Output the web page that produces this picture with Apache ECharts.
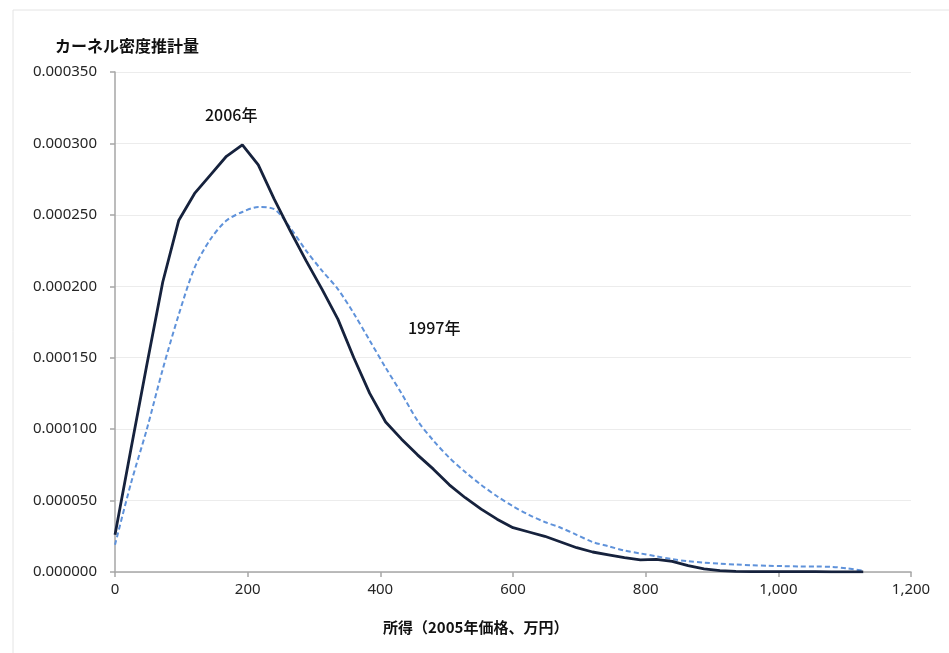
<!DOCTYPE html>
<html>
<head>
<meta charset="utf-8">
<script src="https://cdn.jsdelivr.net/npm/echarts@6/dist/echarts.min.js"></script>
<style>
html,body{margin:0;padding:0;background:#fff;}
#chart{width:949px;height:653px;}
</style>
</head>
<body>
<div id="chart"></div>
<script>
// income (2005 prices, 10k yen)
const incomeX = [0,24,48,72,96,120,144,168,192,216,240,264,288,312,336,360,384,408,432,456,480,504,528,552,576,600,624,648,672,696,720,744,768,792,816,840,864,888,912,936,960,984,1008,1032,1056,1080,1104,1128];
// kernel density, 2006
const density2006 = [0.000026,0.000086,0.000145,0.000203,0.000246,0.000265,0.000278,0.000291,0.000299,0.000285,0.000261,0.000239,0.000218,0.000198,0.000177,0.000150,0.000125,0.000105,0.000093,0.000082,0.000072,0.000061,0.000052,0.000044,0.000037,0.000031,0.000028,0.000025,0.000021,0.000017,0.000014,0.000012,0.000010,0.0000085,0.0000088,0.0000075,0.0000045,0.0000022,0.0000010,0.0000005,0.0000003,0.0000002,0.0000002,0.0000002,0.0000002,0.0000001,0.0000001,0.0000001];
// kernel density, 1997
const density1997 = [0.000019,0.000062,0.000100,0.000142,0.000180,0.000213,0.000233,0.000246,0.000252,0.0002555,0.000254,0.000241,0.000225,0.000211,0.000198,0.000181,0.000162,0.000143,0.000125,0.000106,0.000092,0.000080,0.000070,0.000061,0.000053,0.000046,0.000040,0.000035,0.000031,0.000026,0.000021,0.000018,0.000015,0.000013,0.000011,0.000009,0.0000075,0.0000066,0.0000058,0.0000052,0.0000047,0.0000044,0.0000041,0.0000039,0.0000038,0.0000036,0.0000025,0.0000008];
const xTickMax = 1200, xTickStep = 200;
const yTickMax = 0.00035, yTickStep = 0.00005;
const seriesNames = ['2006年','1997年'];
const yTitle = 'カーネル密度推計量';
const xTitle = '所得（2005年価格、万円）';

const chart = echarts.init(document.getElementById('chart'), null, {renderer:'canvas'});
const pair = (xs, ys) => xs.map((x,i)=>[x, ys[i]]);
const numFont = '"Noto Sans", sans-serif';
const jpFont = '"Noto Sans CJK JP", sans-serif';

chart.setOption({
  backgroundColor:'#fff',
  animation:false,
  grid:{left:115, right:38, top:72, bottom:81},
  xAxis:{
    type:'value', min:0, max:xTickMax, interval:xTickStep,
    axisLine:{show:true, lineStyle:{color:'#a6a6a6', width:1.5}},
    axisTick:{show:true, inside:false, length:5, lineStyle:{color:'#a6a6a6', width:1.5}},
    axisLabel:{color:'#262626', fontFamily:numFont, fontSize:15, margin:10,
      formatter:v=>v.toLocaleString('en-US')},
    splitLine:{show:false}
  },
  yAxis:{
    type:'value', min:0, max:yTickMax, interval:yTickStep,
    axisLine:{show:true, lineStyle:{color:'#a6a6a6', width:1.5}},
    axisTick:{show:true, inside:false, length:5, lineStyle:{color:'#a6a6a6', width:1.5}},
    axisLabel:{color:'#262626', fontFamily:numFont, fontSize:15, margin:18,
      formatter:v=>v.toFixed(6)},
    splitLine:{show:true, lineStyle:{color:'#ececec', width:1}}
  },
  series:[
    {name:seriesNames[0], type:'line', data:pair(incomeX, density2006), showSymbol:false,
     smooth:false, lineStyle:{color:'#16223d', width:2.8}, z:3},
    {name:seriesNames[1], type:'line', data:pair(incomeX, density1997), showSymbol:false,
     smooth:0.3, lineStyle:{color:'#5f92da', width:2, type:[5,3]}, z:2}
  ],
  graphic:[
    {type:'line', shape:{x1:13, y1:10, x2:949, y2:10}, style:{stroke:'#e4e4e4', lineWidth:1}, silent:true},
    {type:'line', shape:{x1:13, y1:10, x2:13, y2:653}, style:{stroke:'#e4e4e4', lineWidth:1}, silent:true},
    {type:'text', left:55, top:38, style:{text:yTitle, font:'bold 16px '+jpFont, fill:'#111'}},
    {type:'text', left:205, top:107, style:{text:seriesNames[0], font:'500 16px '+jpFont, fill:'#111'}},
    {type:'text', left:408, top:320, style:{text:seriesNames[1], font:'500 16px '+jpFont, fill:'#111'}},
    {type:'text', left:383, top:620, style:{text:xTitle, font:'bold 15px '+jpFont, fill:'#111'}}
  ]
});
</script>
</body>
</html>
